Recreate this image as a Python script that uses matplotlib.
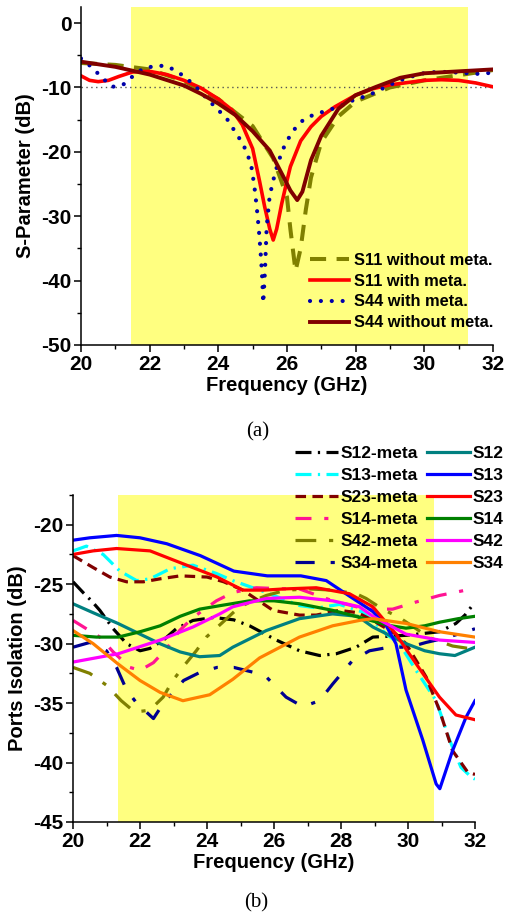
import matplotlib
matplotlib.use("Agg")
import matplotlib.pyplot as plt
from matplotlib.ticker import MultipleLocator

plt.rcParams['font.family'] = ['Liberation Sans', 'DejaVu Sans']
plt.rcParams['font.weight'] = 'bold'
plt.rcParams['axes.unicode_minus'] = False

# ---- (a) reflection coefficients ----
f_s11_wo = [20, 21, 22, 23, 24, 25, 25.6, 26.0, 26.1, 26.25, 26.4, 26.55, 26.7, 27, 27.5, 28, 29, 30, 31, 32]
s11_wo = [-6.2, -6.5, -7.2, -9.0, -11.8, -16.0, -21.0, -27.0, -32.0, -38.5, -35.0, -29.0, -24.0,
          -18.5, -14.5, -12.2, -10.0, -8.9, -8.1, -7.3]

f_s11_m = [20, 20.25, 20.5, 20.8, 21.1, 21.5, 22, 22.5, 23, 23.5, 24, 24.4, 24.7, 25.0, 25.2, 25.35,
           25.5, 25.6, 25.7, 25.85, 26.0, 26.1, 26.4, 26.7, 27, 27.4, 28, 28.5, 29, 30, 30.5, 31, 31.5, 32]
s11_m = [-8.2, -8.9, -9.1, -8.9, -8.3, -7.6, -7.5, -8.0, -8.9, -10.1, -11.8, -13.5, -15.8, -19.5,
         -24.5, -28.5, -32.0, -33.7, -32.0, -28.0, -24.5, -22.3, -18.3, -16.1, -14.5, -13.0, -11.2,
         -10.2, -9.6, -8.9, -8.8, -8.9, -9.3, -9.9]

f_s44_m = [20, 20.3, 20.6, 20.9, 21.2, 21.5, 21.8, 22.2, 22.5, 22.8, 23.1, 23.4, 23.7, 24.0, 24.3,
           24.5, 24.7, 24.85, 24.97, 25.05, 25.12, 25.18, 25.23, 25.27, 25.31, 25.36, 25.41, 25.5,
           25.58, 25.65, 25.85, 26.0, 26.2, 26.5, 26.8, 27.1, 27.4, 27.7, 28.0, 28.35, 28.7, 29.0,
           29.35, 29.7, 30.05, 30.4, 30.7, 31.0, 31.3, 31.6, 32.0]
s44_m = [-5.5, -6.8, -8.4, -9.9, -9.7, -8.3, -7.1, -6.6, -6.7, -7.5, -8.7, -10.2, -11.9, -13.5,
         -15.2, -17.0, -18.6, -20.3, -22.5, -25.3, -28.6, -32.0, -35.4, -38.6, -43.5, -38.5, -31.6,
         -26.7, -25.0, -23.3, -20.0, -18.3, -16.6, -14.9, -14.2, -13.7, -13.2, -12.6, -11.8, -11.3,
         -10.4, -9.6, -8.8, -8.2, -7.7, -7.6, -7.6, -7.7, -7.8, -7.9, -7.7]

f_s44_wo = [20, 21, 22, 23, 23.5, 24, 24.5, 25, 25.5, 25.9, 26.1, 26.3, 26.45, 26.7, 27, 27.5, 28,
            28.6, 29.3, 30, 31, 32]
s44_wo = [-6.0, -6.8, -8.0, -9.7, -11.0, -12.5, -14.3, -16.8, -19.8, -23.9, -26.0, -27.5, -26.2,
          -21.3, -17.5, -13.3, -11.2, -9.9, -8.5, -7.8, -7.5, -7.2]

# ---- (b) port isolation ----
f_s12m = [20, 20.3, 20.55, 20.8, 21.2, 21.6, 22.0, 22.3, 22.7, 23.08, 23.58, 24.2, 24.8, 25.27,
          26.07, 26.76, 27.36, 27.86, 28.45, 28.95, 29.94, 30.94, 31.43, 31.7, 32]
s12m = [-24.8, -25.7, -26.4, -27.2, -28.75, -30.0, -30.6, -30.4, -29.7, -28.75, -28.05, -27.8,
        -28.0, -28.5, -29.7, -30.6, -31.0, -30.85, -30.3, -29.45, -29.3, -29.0, -28.3, -27.6, -26.5]

f_s13m = [20, 20.4, 20.9, 21.4, 21.9, 22.3, 22.9, 23.58, 24.28, 24.77, 25.77, 26.76, 27.3, 27.95,
          28.6, 29.0, 29.35, 29.74, 30.24, 30.84, 31.24, 31.58, 31.88, 32]
s13m = [-22.2, -21.8, -22.5, -23.9, -24.7, -24.55, -23.7, -23.4, -24.1, -24.7, -25.7, -26.8,
        -27.0, -26.7, -27.3, -28.2, -29.2, -30.0, -32.25, -34.8, -38.1, -40.4, -41.2, -41.4]

f_s23m = [20, 20.6, 21.1, 21.6, 22.1, 22.6, 23.2, 24.0, 24.5, 25.07, 25.97, 26.76, 27.26, 27.95,
          28.5, 28.95, 29.64, 29.94, 30.54, 30.94, 31.33, 31.78, 32]
s23m = [-22.6, -23.6, -24.4, -24.8, -24.8, -24.55, -24.3, -24.4, -24.8, -25.5, -27.2, -27.6,
        -27.6, -27.2, -27.4, -28.05, -29.2, -30.0, -32.8, -35.6, -39.0, -40.8, -41.0]

f_s14m = [20, 20.4, 20.8, 21.2, 21.7, 22.0, 22.4, 22.8, 23.18, 23.58, 24.28, 24.77, 25.47, 26.36,
          26.76, 27.75, 28.75, 29.54, 30.24, 30.94, 31.73, 32]
s14m = [-28.05, -28.75, -29.45, -30.7, -32.0, -32.25, -31.6, -30.4, -28.9, -27.8, -26.4, -25.7,
        -25.3, -25.4, -25.4, -26.4, -27.1, -27.1, -26.5, -25.95, -25.5, -25.4]

f_s42m = [20, 20.5, 21.0, 21.44, 21.84, 22.29, 22.69, 22.98, 23.33, 23.68, 23.98, 24.47, 24.97,
          25.77, 26.36, 27.06, 27.75, 28.45, 28.75, 29.24, 29.74, 30.64, 31.33, 31.8]
s42m = [-32.0, -32.5, -33.5, -34.8, -35.75, -35.6, -34.5, -33.1, -31.8, -30.6, -29.45, -28.2,
        -26.9, -25.95, -25.5, -25.4, -25.5, -25.8, -26.2, -27.1, -27.8, -29.5, -30.2, -30.4]

f_s34m = [20, 20.5, 21.0, 21.3, 21.6, 21.9, 22.4, 22.7, 23.3, 23.8, 24.3, 24.8, 25.37, 25.77,
          26.36, 26.86, 27.36, 27.75, 28.35, 28.85, 29.44, 30.04, 30.54, 31.0, 31.5, 32]
s34m = [-30.3, -29.9, -30.6, -32.0, -33.9, -35.0, -36.3, -35.0, -33.1, -32.4, -32.0, -32.0,
        -32.4, -32.8, -34.5, -35.3, -34.8, -33.4, -31.4, -30.6, -30.3, -30.3, -29.9, -29.6,
        -29.2, -28.75]

f_s12 = [20, 20.6, 21.34, 22.0, 22.59, 23.2, 23.78, 24.38, 24.77, 25.77, 26.76, 27.75, 28.5,
         28.95, 29.94, 30.5, 30.94, 31.4, 32]
s12 = [-26.65, -27.4, -28.3, -29.2, -30.0, -30.7, -31.1, -31.0, -30.3, -28.9, -27.9, -27.5,
       -27.7, -28.6, -30.0, -30.6, -30.85, -31.0, -30.3]

f_s13 = [20, 20.5, 21.3, 22, 22.8, 23.8, 24.8, 25.8, 26.8, 27.56, 28.25, 28.95, 29.35, 29.64,
         29.94, 30.44, 30.84, 30.95, 31.33, 31.73, 32]
s13 = [-21.3, -21.1, -20.9, -21.1, -21.6, -22.6, -23.9, -24.3, -24.3, -24.7, -26.0, -27.3,
       -28.5, -30.0, -33.9, -38.1, -41.8, -42.2, -39.0, -36.2, -34.8]

f_s23 = [20, 20.6, 21.3, 22.3, 23.3, 24.3, 25.07, 25.7, 26.3, 27.26, 28.25, 28.95, 29.64, 30.0,
         30.44, 30.94, 31.43, 32]
s23 = [-22.5, -22.2, -22.0, -22.2, -23.3, -24.4, -25.5, -25.5, -25.4, -25.3, -25.8, -26.9,
       -29.2, -30.7, -32.5, -34.5, -36.0, -36.4]

f_s14 = [20, 20.7, 21.35, 22.0, 22.6, 23.2, 23.78, 24.4, 25.27, 26.0, 26.76, 27.75, 28.3, 28.95,
         29.5, 29.94, 30.5, 30.94, 31.5, 32]
s14 = [-29.3, -29.45, -29.45, -29.0, -28.5, -27.7, -27.1, -26.8, -26.4, -26.4, -26.65, -27.2,
       -27.6, -28.1, -28.5, -28.7, -28.5, -28.2, -27.9, -27.7]

f_s42 = [20, 21.35, 22.6, 23.58, 24.38, 24.77, 25.77, 26.76, 27.75, 28.55, 28.95, 29.94, 30.94, 32]
s42 = [-31.55, -30.85, -29.7, -28.6, -27.5, -26.9, -26.2, -26.1, -26.4, -26.9, -27.7, -29.2,
       -29.7, -29.9]

f_s34 = [20, 20.6, 21.34, 22.0, 22.6, 23.28, 24.08, 24.77, 25.57, 26.76, 27.75, 28.55, 28.95,
         29.94, 30.94, 32]
s34 = [-28.9, -30.0, -31.7, -33.1, -34.1, -34.8, -34.3, -33.0, -31.2, -29.45, -28.5, -28.05,
       -27.9, -28.3, -29.0, -29.45]

band_a = (21.46, 31.27)
band_b = (21.34, 30.78)

fig = plt.figure(figsize=(5.05, 9.17), dpi=100)
ax1 = fig.add_axes([0.1604, 0.6238, 0.8156, 0.3686])
ax2 = fig.add_axes([0.1446, 0.1036, 0.796, 0.3566])


def style_axes(ax):
    for s in ('top', 'right'):
        ax.spines[s].set_visible(False)
    for s in ('left', 'bottom'):
        ax.spines[s].set_linewidth(1.1)
    ax.tick_params(which='major', direction='out', length=5, width=1.1, labelsize=15, pad=2)
    ax.tick_params(which='minor', direction='out', length=2.8, width=1.0)


# (a)
ax1.axvspan(*band_a, color='#ffff80', lw=0, zorder=0)
ax1.axhline(-10, color='#555555', ls=(0, (1, 2.5)), lw=1.0, zorder=1)
ax1.plot(f_s11_wo, s11_wo, color='#808000', lw=2.9, dashes=(4, 2.6), label='S11 without meta.')
ax1.plot(f_s11_m, s11_m, color='#ff0000', lw=2.6, label='S11 with meta.')
ax1.plot(f_s44_m, s44_m, color='#0000aa', lw=3.0, dashes=(0.01, 2.6), dash_capstyle='round',
         label='S44 with meta.')
ax1.plot(f_s44_wo, s44_wo, color='#800000', lw=2.8, label='S44 without meta.')
ax1.set_xlim(20, 32)
ax1.set_ylim(-50, 2.5)
ax1.xaxis.set_major_locator(MultipleLocator(2))
ax1.xaxis.set_minor_locator(MultipleLocator(1))
ax1.yaxis.set_major_locator(MultipleLocator(10))
ax1.yaxis.set_minor_locator(MultipleLocator(5))
style_axes(ax1)
ax1.set_xlabel('Frequency (GHz)', fontsize=14.5, fontweight='bold', labelpad=2)
ax1.set_ylabel('S-Parameter (dB)', fontsize=14.5, fontweight='bold', labelpad=4)
ax1.legend(loc='upper left', bbox_to_anchor=(0.555, 0.273), frameon=False,
           handlelength=2.4, handletextpad=0.3, labelspacing=0.36, borderpad=0,
           borderaxespad=0, prop={'weight': 'bold', 'size': 11.8})

# (b)
ax2.axvspan(*band_b, color='#ffff80', lw=0, zorder=0)
meta = [
    (f_s12m, s12m, 'black', (5, 2, 0.7, 2), 'S12-meta'),
    (f_s13m, s13m, '#00ffff', (5, 2, 0.7, 2), 'S13-meta'),
    (f_s23m, s23m, '#800000', (3.3, 2.0), 'S23-meta'),
    (f_s14m, s14m, '#ff1493', (5, 4, 1.3, 4), 'S14-meta'),
    (f_s42m, s42m, '#808000', (6.5, 4, 1.3, 4), 'S42-meta'),
    (f_s34m, s34m, '#000090', (6, 5, 1.3, 5), 'S34-meta'),
]
solid = [
    (f_s12, s12, '#008080', 'S12'),
    (f_s13, s13, '#0000ff', 'S13'),
    (f_s23, s23, '#ff0000', 'S23'),
    (f_s14, s14, '#008000', 'S14'),
    (f_s42, s42, '#ff00ff', 'S42'),
    (f_s34, s34, '#ff8000', 'S34'),
]
handles = []
for fx, y, c, d, lab in meta:
    h, = ax2.plot(fx, y, color=c, lw=2.3, dashes=d, label=lab)
    handles.append(h)
for fx, y, c, lab in solid:
    h, = ax2.plot(fx, y, color=c, lw=2.3, label=lab)
    handles.append(h)
ax2.set_xlim(20, 32)
ax2.set_ylim(-45, -17.5)
ax2.xaxis.set_major_locator(MultipleLocator(2))
ax2.xaxis.set_minor_locator(MultipleLocator(1))
ax2.yaxis.set_major_locator(MultipleLocator(5))
ax2.yaxis.set_minor_locator(MultipleLocator(2.5))
style_axes(ax2)
ax2.set_xlabel('Frequency (GHz)', fontsize=14.5, fontweight='bold', labelpad=2)
ax2.set_ylabel('Ports Isolation (dB)', fontsize=14.5, fontweight='bold', labelpad=4)
fig.legend(handles=handles, ncol=2, loc='upper left', bbox_to_anchor=(0.584, 0.514),
           frameon=False, handlelength=2.5, handletextpad=0.15, labelspacing=0.4,
           columnspacing=0.5, borderpad=0, borderaxespad=0,
           prop={'weight': 'bold', 'size': 12.5})

fig.text(0.511, 1 - 432 / 917, '(a)', family='Liberation Serif', fontsize=15,
         fontweight='normal', ha='center', va='center')
fig.text(0.508, 1 - 903 / 917, '(b)', family='Liberation Serif', fontsize=15,
         fontweight='normal', ha='center', va='center')

fig.savefig('out.png', dpi=100)
